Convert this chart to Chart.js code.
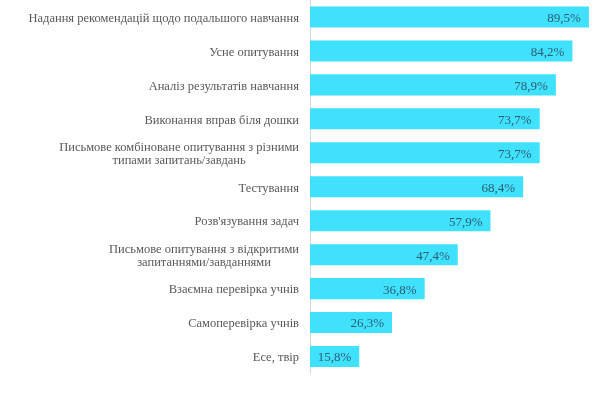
<!DOCTYPE html>
<html><head><meta charset="utf-8">
<script src="https://cdn.jsdelivr.net/npm/chart.js@4/dist/chart.umd.min.js"></script>
<style>html,body{margin:0;padding:0;background:#fff;}#wrap{width:600px;height:393px;position:relative;}</style>
</head><body><div id="wrap"><canvas id="c"></canvas></div>
<script>
const categories = [
  "Надання рекомендацій щодо подальшого навчання",
  "Усне опитування",
  "Аналіз результатів навчання",
  "Виконання вправ біля дошки",
  ["Письмове комбіноване опитування з різними", "типами запитань/завдань"],
  "Тестування",
  "Розв'язування задач",
  ["Письмове опитування з відкритими", "запитаннями/завданнями"],
  "Взаємна перевірка учнів",
  "Самоперевірка учнів",
  "Есе, твір"
];
const values = [89.5, 84.2, 78.9, 73.7, 73.7, 68.4, 57.9, 47.4, 36.8, 26.3, 15.8];
const valueLabels = ["89,5%", "84,2%", "78,9%", "73,7%", "73,7%", "68,4%", "57,9%", "47,4%", "36,8%", "26,3%", "15,8%"];

const FONT = "'Liberation Serif', 'DejaVu Serif', serif";

const labelPlugin = {
  id: 'customLabels',
  afterDatasetsDraw(chart) {
    const ctx = chart.ctx;
    const meta = chart.getDatasetMeta(0);
    ctx.save();
    ctx.font = "13px " + FONT;
    ctx.fillStyle = "#2f5d72";
    ctx.textAlign = "right";
    ctx.textBaseline = "middle";
    meta.data.forEach((bar, i) => {
      ctx.fillText(valueLabels[i], bar.x - 8, bar.y + 1.5);
    });
    // category labels: block right-aligned to axis, lines centered within block
    const yScale = chart.scales.y;
    const rightEdge = yScale.right - 11;
    ctx.font = "12.5px " + FONT;
    ctx.fillStyle = "#595959";
    ctx.textAlign = "center";
    const lineH = 13.5;
    categories.forEach((lab, i) => {
      const lines = Array.isArray(lab) ? lab : [lab];
      const maxW = Math.max(...lines.map(l => ctx.measureText(l).width));
      const cx = rightEdge - maxW / 2;
      const cy = yScale.getPixelForTick(i) + 1.5;
      const y0 = cy - (lines.length - 1) * lineH / 2;
      lines.forEach((l, k) => ctx.fillText(l, cx, y0 + k * lineH));
    });
    ctx.restore();
  }
};

new Chart(document.getElementById('c'), {
  type: 'bar',
  data: {
    labels: categories,
    datasets: [{
      data: values,
      backgroundColor: '#3fe1fd',
      borderWidth: 0,
      barPercentage: 0.62,
      categoryPercentage: 1.0
    }]
  },
  options: {
    indexAxis: 'y',
    responsive: true,
    maintainAspectRatio: false,
    animation: false,
    layout: { padding: { top: -2, right: 9.5, bottom: 19.5, left: 0 } },
    plugins: { legend: { display: false }, tooltip: { enabled: false } },
    scales: {
      x: {
        min: 0, max: 90,
        display: false,
        grid: { display: false }
      },
      y: {
        afterFit(scale) {
          scale.width = 310;
          scale.paddingTop = -2;
          scale.paddingBottom = 0;
        },
        grid: { display: false, drawTicks: false },
        border: { display: true, color: '#d9d9d9', width: 1 },
        ticks: { display: false }
      }
    }
  },
  plugins: [labelPlugin]
});
</script></body></html>
